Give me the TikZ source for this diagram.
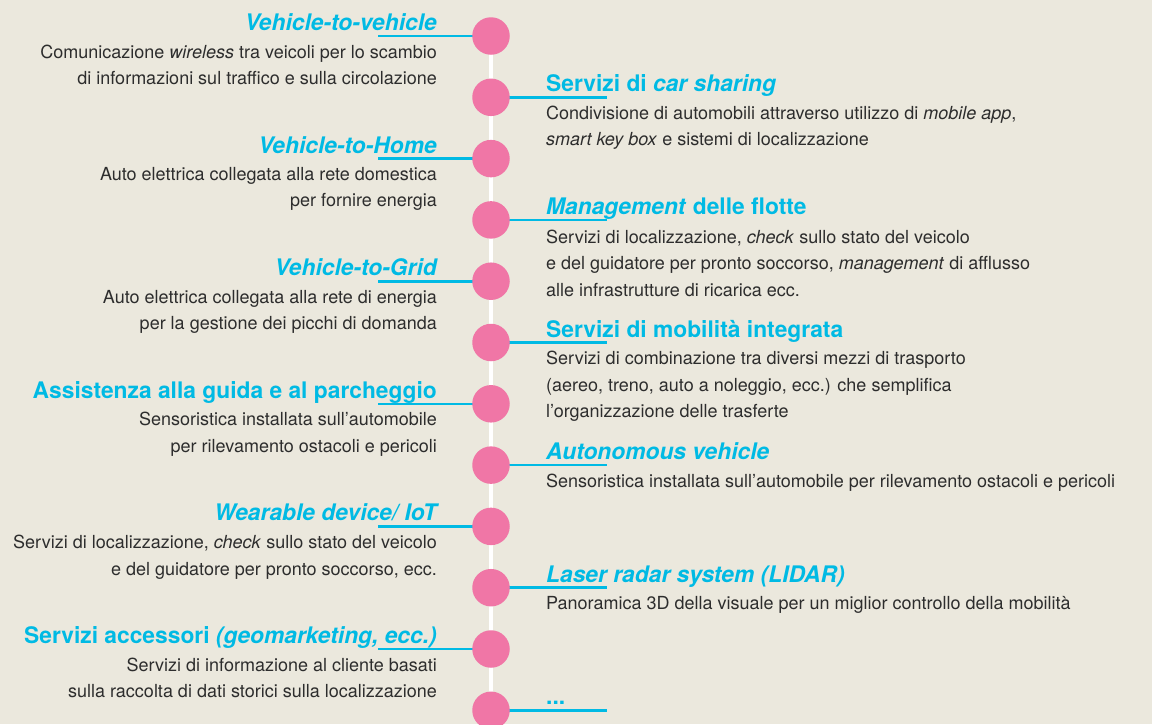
\documentclass[tikz,border=0pt]{standalone}
\usepackage{fontspec}
\setmainfont{TeX Gyre Heros}
\usepackage{xcolor}
\usetikzlibrary{positioning,backgrounds}
\definecolor{bgcol}{RGB}{235,232,221}
\definecolor{dotcol}{RGB}{240,118,166}
\definecolor{linkcol}{RGB}{0,186,228}
\definecolor{textcol}{RGB}{45,45,45}

\begin{document}
\begin{tikzpicture}[
    x=1pt, y=1pt,
    dot/.style={circle, fill=dotcol, minimum size=37.5pt, inner sep=0pt},
    spine/.style={draw=white, line width=4pt},
    link/.style={draw=linkcol, line width=2.6pt},
    head/.style={inner sep=0pt, text=linkcol, font=\fontsize{22.8}{27}\selectfont\bfseries},
    headL/.style={head, anchor=base east},
    headR/.style={head, anchor=base west},
    desc/.style={inner sep=0pt, text=textcol, font=\fontsize{18}{26.5}\selectfont},
    descL/.style={desc, anchor=north east, align=right},
    descR/.style={desc, anchor=north west, align=left}
]
    \useasboundingbox (0,0) rectangle (1152,-724);

    % timeline dots
    \foreach \i in {1,...,12}
        \node[dot] (c\i) at (491,{-36-61.3*(\i-1)}) {};

    % left side
    \node[headL] (h1) at ([shift={(-54,5.5)}]c1.center) {\itshape Vehicle-to-vehicle};
    \node[descL] (d1) at ([shift={(-54,-8.5)}]c1.center) {Comunicazione \textit{wireless} tra veicoli per lo scambio\\di informazioni sul traffico e sulla circolazione};
    \node[headL] (h3) at ([shift={(-54,5.5)}]c3.center) {\itshape Vehicle-to-Home};
    \node[descL] (d3) at ([shift={(-54,-8.5)}]c3.center) {Auto elettrica collegata alla rete domestica\\per fornire energia};
    \node[headL] (h5) at ([shift={(-54,5.5)}]c5.center) {\itshape Vehicle-to-Grid};
    \node[descL] (d5) at ([shift={(-54,-8.5)}]c5.center) {Auto elettrica collegata alla rete di energia\\per la gestione dei picchi di domanda};
    \node[headL] (h7) at ([shift={(-54,5.5)}]c7.center) {Assistenza alla guida e al parcheggio};
    \node[descL] (d7) at ([shift={(-54,-8.5)}]c7.center) {Sensoristica installata sull'automobile\\per rilevamento ostacoli e pericoli};
    \node[headL] (h9) at ([shift={(-54,5.5)}]c9.center) {\itshape Wearable device/ IoT};
    \node[descL] (d9) at ([shift={(-54,-8.5)}]c9.center) {Servizi di localizzazione, \textit{check} sullo stato del veicolo\\e del guidatore per pronto soccorso, ecc.};
    \node[headL] (h11) at ([shift={(-54,5.5)}]c11.center) {Servizi accessori \textit{(geomarketing, ecc.)}};
    \node[descL] (d11) at ([shift={(-54,-8.5)}]c11.center) {Servizi di informazione al cliente basati\\sulla raccolta di dati storici sulla localizzazione};

    % right side
    \node[headR] (h2) at ([shift={(55,5.5)}]c2.center) {Servizi di \textit{car sharing}};
    \node[descR] (d2) at ([shift={(55,-8.5)}]c2.center) {Condivisione di automobili attraverso utilizzo di \textit{mobile app},\\\textit{smart key box} e sistemi di localizzazione};
    \node[headR] (h4) at ([shift={(55,5.5)}]c4.center) {\textit{Management} delle flotte};
    \node[descR] (d4) at ([shift={(55,-9.5)}]c4.center) {Servizi di localizzazione, \textit{check} sullo stato del veicolo\\e del guidatore per pronto soccorso, \textit{management} di afflusso\\alle infrastrutture di ricarica ecc.};
    \node[headR] (h6) at ([shift={(55,5.5)}]c6.center) {Servizi di mobilità integrata};
    \node[descR] (d6) at ([shift={(55,-8.5)}]c6.center) {Servizi di combinazione tra diversi mezzi di trasporto\\(aereo, treno, auto a noleggio, ecc.) che semplifica\\l'organizzazione delle trasferte};
    \node[headR] (h8) at ([shift={(55,5.5)}]c8.center) {\itshape Autonomous vehicle};
    \node[descR] (d8) at ([shift={(55,-8.5)}]c8.center) {Sensoristica installata sull'automobile per rilevamento ostacoli e pericoli};
    \node[headR] (h10) at ([shift={(55,5.5)}]c10.center) {\itshape Laser radar system (LIDAR)};
    \node[descR] (d10) at ([shift={(55,-8.5)}]c10.center) {Panoramica 3D della visuale per un miglior controllo della mobilità};
    \node[headR] (h12) at ([shift={(55,5.5)}]c12.center) {...};

    % background, spine and links behind the dots
    \begin{pgfonlayer}{background}
        \fill[bgcol] (0,0) rectangle (1152,-724);
        \draw[spine] (c1.center) -- (c12.center);
        \foreach \i in {1,3,...,11} {
            \coordinate (e\i) at ([xshift=-113]c\i.center);
            \draw[link] (e\i) -- (c\i.center);
        }
        \foreach \i in {2,4,...,12} {
            \coordinate (e\i) at ([xshift=116]c\i.center);
            \draw[link] (c\i.center) -- (e\i);
        }
    \end{pgfonlayer}
\end{tikzpicture}
\end{document}
